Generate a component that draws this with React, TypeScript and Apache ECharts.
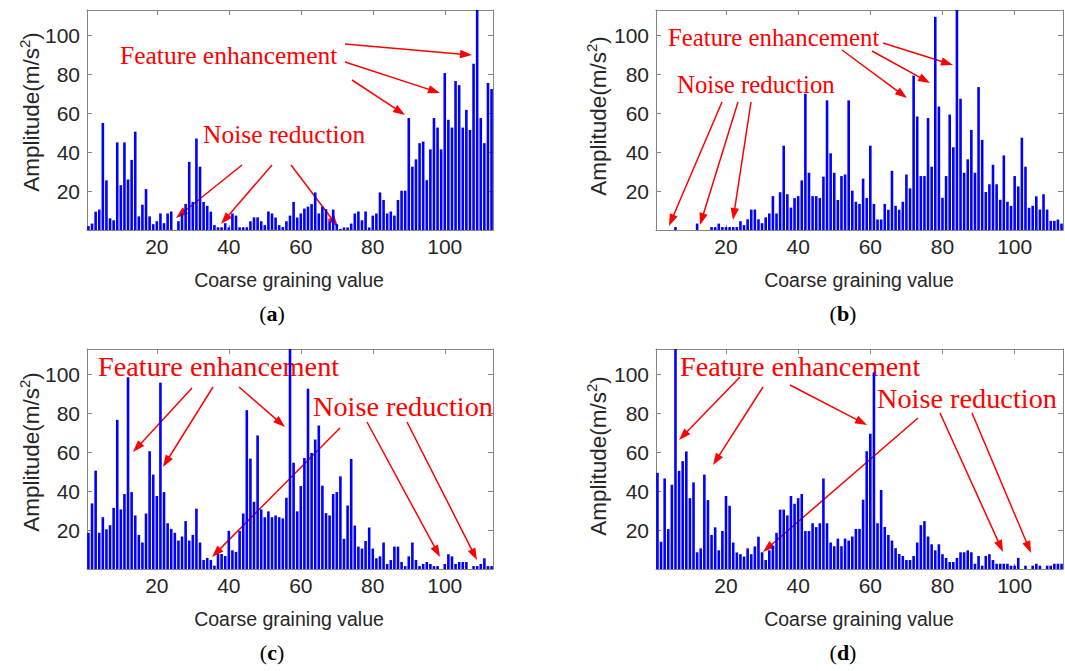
import { useEffect, useRef } from "react";
import * as echarts from "echarts";

// Coarse graining values 1..113 on the horizontal axis
const grainValues = Array.from({ length: 113 }, (_, i) => i + 1);

// Amplitude spectra (m/s^2) for the four cases
const amplitudeA = [
  2, 3.3, 9.4, 10.5, 55, 25.5, 6, 5, 45, 23,
  45, 26, 36, 50.5, 7, 13, 21, 7, 3, 4.5,
  8.5, 3.5, 8.5, 9.5, 0, 4.5, 8.5, 13.4, 35, 14.4,
  47, 32.5, 14.4, 12.4, 9.4, 2.5, 1.4, 1.4, 3.5, 1.4,
  8.5, 7.4, 1.4, 1.4, 1.4, 4.5, 6.5, 6.5, 4.5, 2.5,
  9.5, 8.5, 6.4, 2.5, 1.5, 4.5, 7.4, 14.4, 6.4, 8.5,
  11, 12, 13.3, 19.3, 8.5, 12, 10.7, 4.5, 10.5, 3,
  0.5, 1.3, 1.3, 3.3, 8.5, 9.5, 5, 9.5, 1.3, 7.4,
  8.5, 19.3, 15.4, 8.5, 9.5, 7.4, 15.4, 20.2, 20.2, 57.5,
  32.5, 36.3, 44.6, 45.4, 25.6, 41.4, 57.5, 52.6, 41.4, 80.6,
  56.6, 52.6, 76.5, 74.4, 52.6, 61.7, 51.4, 85.4, 113, 57.5,
  44.6, 75.5, 72.4,
];

const amplitudeB = [
  0, 0, 0, 0, 0, 1.5, 0, 0, 0, 0,
  0, 3.3, 0, 0, 0, 1.5, 1.5, 3.3, 1.5, 1.5,
  1.5, 1.5, 1.5, 4.5, 2.5, 5.5, 10.5, 10.5, 5.5, 3.5,
  6.5, 8.5, 17.4, 8.5, 19.4, 43.3, 18.4, 11.5, 16.4, 17.4,
  25.5, 70, 29.4, 17.4, 17.4, 16.4, 27.4, 66.6, 39.4, 29.4,
  15.4, 27.7, 28.5, 66.6, 20.2, 14.5, 13.4, 26.4, 16.4, 43.3,
  13.4, 5.4, 5.4, 13.4, 10.4, 30.4, 12.4, 10.4, 14.5, 28.5,
  21.4, 79.3, 58.3, 27.7, 27.7, 57.5, 32.5, 109.5, 63.4, 16.5,
  27.7, 59.3, 42.5, 113, 67.4, 29.4, 36.3, 51.4, 29.4, 73.4,
  46.3, 19.5, 23.5, 33.5, 23.5, 15.5, 38.3, 14.5, 12.4, 27.7,
  22.4, 47.4, 32.5, 11.4, 12.4, 17.3, 10.5, 18.4, 10.5, 4.7,
  4.7, 5.4, 3.3,
];

const amplitudeC = [
  18.6, 33.7, 50.5, 18.6, 26.6, 20.4, 22.5, 31.4, 76.6, 30.6,
  38.5, 98.5, 39.5, 27.5, 17.5, 13.6, 28.5, 60.5, 48.5, 37.5,
  95.7, 39.5, 23.5, 20.6, 18.6, 14.6, 16.7, 24.6, 14.6, 17.5,
  31, 13.6, 4.6, 5.7, 4.6, 1.7, 7.7, 7.7, 6.7, 19.6,
  9.6, 8.8, 19.6, 28.5, 81.6, 56.7, 34.5, 68.6, 30.6, 26.6,
  29.6, 26.6, 27.5, 26.6, 26, 36.6, 113, 54.6, 29.6, 42.6,
  57, 92.6, 59.6, 66.5, 73.7, 42.8, 28.7, 27.5, 38.5, 39.5,
  47.6, 15.5, 32.6, 56.5, 22.3, 11.5, 10.5, 14.4, 21.3, 10.5,
  5.5, 6.5, 13.6, 2.6, 4.6, 11.5, 11.5, 3.6, 1.5, 6.5,
  13.6, 4.6, 1.5, 2.6, 3.6, 2.6, 1.5, 1.5, 0, 2.6,
  7.6, 6.5, 2.6, 3.6, 3.6, 3.6, 0, 1.5, 1.5, 2.6,
  5.5, 1.5, 1.5,
];

const amplitudeD = [
  49.4, 14, 46.5, 20.5, 43.3, 113, 50.4, 55.4, 60.4, 36.4,
  44.5, 8.6, 10.6, 48.5, 35.4, 17.5, 21.4, 9.6, 19.5, 37.5,
  32.5, 13.6, 8.5, 7.6, 6.4, 10.6, 7.6, 11.6, 16.6, 8.6,
  4.6, 9.6, 12, 18.6, 30.5, 30.5, 27.5, 37.5, 33.5, 36.4,
  38.5, 19.5, 19.5, 23.5, 21.5, 23.5, 46.5, 23.5, 13.6, 11.7,
  15.6, 11.7, 15.6, 14.6, 16.7, 20.6, 20.6, 35.6, 60.5, 69.5,
  101, 23.5, 40.6, 21.6, 17.5, 14.6, 10.7, 7.7, 6.7, 4.6,
  4.6, 6.7, 13.6, 22.5, 24.6, 16.7, 12.7, 9.6, 12.7, 7.6,
  5.7, 3.6, 3.6, 5.7, 8.6, 8.6, 9.6, 8.6, 2.7, 6.7,
  1.7, 6.7, 7.6, 4.6, 2.7, 2.7, 2.7, 2.7, 1.7, 1.7,
  5.7, 0, 1.7, 0, 1.7, 2.7, 1.7, 0, 1.7, 1.7,
  2.7, 2.7, 2.7,
];

const xTicks = [20, 40, 60, 80, 100];
const yTicks = [20, 40, 60, 80, 100];
const panelLetters = ["a", "b", "c", "d"];
const xAxisTitle = "Coarse graining value";
const featureText = "Feature enhancement";
const noiseText = "Noise reduction";

const seriesData = [amplitudeA, amplitudeB, amplitudeC, amplitudeD];

// plot-area placement of each subplot
const layout = [
  { left: 87, top: 10, width: 406, height: 220, yName: [30, 112], xName: [289, 280], tag: [272, 313] },
  { left: 656, top: 10, width: 407, height: 220, yName: [597, 116], xName: [859, 280], tag: [843, 313] },
  { left: 87, top: 349, width: 406, height: 220, yName: [30, 452], xName: [289, 619], tag: [272, 652] },
  { left: 656, top: 349, width: 407, height: 220, yName: [597, 456], xName: [859, 619], tag: [843, 652] },
];

// red annotation texts: [text, x, y, fontSize]
const notes: [string, number, number, number][] = [
  [featureText, 120, 55, 25.5],
  [noiseText, 203, 134, 25.5],
  [featureText, 668, 37, 24.8],
  [noiseText, 677, 84, 24.8],
  [featureText, 98, 366, 28.3],
  [noiseText, 313, 406, 28.3],
  [featureText, 680, 366, 28.2],
  [noiseText, 877, 398, 28.3],
];

// red arrows: [x1, y1, x2, y2] with the head at (x2, y2)
const arrows: [number, number, number, number][] = [
  [345, 44, 472, 55],
  [345, 62, 440, 93],
  [352, 80, 405, 115],
  [242, 165, 176, 218],
  [272, 165, 221, 224],
  [291, 165, 338, 227],
  [722, 102, 669, 226],
  [738, 102, 700, 225],
  [751, 102, 733, 220],
  [842, 50, 907, 98],
  [872, 51, 930, 83],
  [883, 43, 953, 65],
  [192, 388, 133, 452],
  [213, 387, 163, 467],
  [239, 387, 285, 427],
  [340, 428, 212, 557],
  [367, 422, 440, 557],
  [407, 422, 477, 560],
  [740, 377, 679, 440],
  [763, 387, 713, 465],
  [790, 385, 867, 425],
  [918, 418, 763, 552],
  [940, 413, 1003, 552],
  [972, 413, 1031, 553],
];

const RED = "#ff0000";
const AXIS_GRAY = "#868686";
const LABEL = "#262626";
const SANS = "'Liberation Sans', Arial, sans-serif";
const SERIF = "'Liberation Serif', 'Times New Roman', serif";

function arrowShapes(x1: number, y1: number, x2: number, y2: number) {
  const dx = x2 - x1;
  const dy = y2 - y1;
  const len = Math.hypot(dx, dy);
  const ux = dx / len;
  const uy = dy / len;
  const headLen = 12;
  const headHalf = 4.2;
  const bx = x2 - ux * headLen;
  const by = y2 - uy * headLen;
  return [
    {
      type: "line",
      silent: true,
      shape: { x1, y1, x2: bx + ux * 2, y2: by + uy * 2 },
      style: { stroke: RED, lineWidth: 1.5 },
    },
    {
      type: "polygon",
      silent: true,
      shape: {
        points: [
          [x2, y2],
          [bx - uy * headHalf, by + ux * headHalf],
          [bx + uy * headHalf, by - ux * headHalf],
        ],
      },
      style: { fill: RED },
    },
  ];
}

export default function App() {
  const ref = useRef<HTMLDivElement>(null);

  useEffect(() => {
    if (!ref.current) return;
    const chart = echarts.init(ref.current, undefined, { renderer: "svg" });

    const grids: any[] = [];
    const xAxes: any[] = [];
    const yAxes: any[] = [];
    const series: any[] = [];
    const graphics: any[] = [];

    layout.forEach((p, i) => {
      grids.push({ left: p.left, top: p.top, width: p.width, height: p.height, containLabel: false });
      const lineStyle = { color: AXIS_GRAY, width: 1 };
      const labelStyle = { color: LABEL, fontSize: 21, fontFamily: SANS };
      xAxes.push(
        {
          gridIndex: i,
          type: "value",
          min: 0.6,
          max: 113.4,
          position: "bottom",
          axisLine: { show: true, onZero: false, lineStyle },
          axisTick: { show: true, inside: true, length: 5, customValues: xTicks, lineStyle },
          axisLabel: { show: true, customValues: xTicks, margin: 6, ...labelStyle },
          splitLine: { show: false },
        },
        {
          gridIndex: i,
          type: "value",
          min: 0.6,
          max: 113.4,
          position: "top",
          axisLine: { show: true, onZero: false, lineStyle },
          axisTick: { show: true, inside: true, length: 5, customValues: xTicks, lineStyle },
          axisLabel: { show: false },
          splitLine: { show: false },
        }
      );
      yAxes.push(
        {
          gridIndex: i,
          type: "value",
          min: 0,
          max: 113,
          position: "left",
          axisLine: { show: true, onZero: false, lineStyle },
          axisTick: { show: true, inside: true, length: 5, customValues: yTicks, lineStyle },
          axisLabel: { show: true, customValues: yTicks, margin: 7, ...labelStyle },
          splitLine: { show: false },
        },
        {
          gridIndex: i,
          type: "value",
          min: 0,
          max: 113,
          position: "right",
          axisLine: { show: true, onZero: false, lineStyle },
          axisTick: { show: true, inside: true, length: 5, customValues: yTicks, lineStyle },
          axisLabel: { show: false },
          splitLine: { show: false },
        }
      );
      series.push({
        type: "bar",
        xAxisIndex: i * 2,
        yAxisIndex: i * 2,
        data: grainValues.map((g, k) => [g, seriesData[i][k]]),
        barWidth: 2.6,
        itemStyle: { color: "#0000ff" },
        silent: true,
      });

      graphics.push(
        {
          type: "text",
          x: p.yName[0],
          y: p.yName[1],
          rotation: Math.PI / 2,
          silent: true,
          style: {
            text: "{t|Amplitude(m/s}{s|2}{t|)}",
            align: "center",
            verticalAlign: "middle",
            rich: {
              t: { fontSize: 22.5, fontFamily: SANS, fill: LABEL, lineHeight: 26, verticalAlign: "bottom" },
              s: { fontSize: 15, fontFamily: SANS, fill: LABEL, lineHeight: 26, verticalAlign: "top" },
            },
          },
        },
        {
          type: "text",
          x: p.xName[0],
          y: p.xName[1],
          silent: true,
          style: {
            text: xAxisTitle,
            align: "center",
            verticalAlign: "middle",
            fontSize: 19.5,
            fontFamily: SANS,
            fill: LABEL,
          },
        },
        {
          type: "text",
          x: p.tag[0],
          y: p.tag[1],
          silent: true,
          style: {
            text: `{n|(}{b|${panelLetters[i]}}{n|)}`,
            align: "center",
            verticalAlign: "middle",
            rich: {
              n: { fontSize: 22, fontFamily: SERIF, fill: "#000" },
              b: { fontSize: 22, fontFamily: SERIF, fontWeight: "bold", fill: "#000" },
            },
          },
        }
      );
    });

    notes.forEach(([text, x, y, size]) => {
      graphics.push({
        type: "text",
        x,
        y,
        silent: true,
        style: { text, align: "left", verticalAlign: "middle", fontSize: size, fontFamily: SERIF, fill: RED },
      });
    });
    arrows.forEach(([x1, y1, x2, y2]) => graphics.push(...arrowShapes(x1, y1, x2, y2)));

    chart.setOption({
      animation: false,
      backgroundColor: "#ffffff",
      grid: grids,
      xAxis: xAxes,
      yAxis: yAxes,
      series,
      graphic: { elements: graphics },
    });

    return () => chart.dispose();
  }, []);

  return (
    <div
      ref={ref}
      style={{ position: "absolute", left: 0, top: 0, width: 1065, height: 671, background: "#fff" }}
    />
  );
}
